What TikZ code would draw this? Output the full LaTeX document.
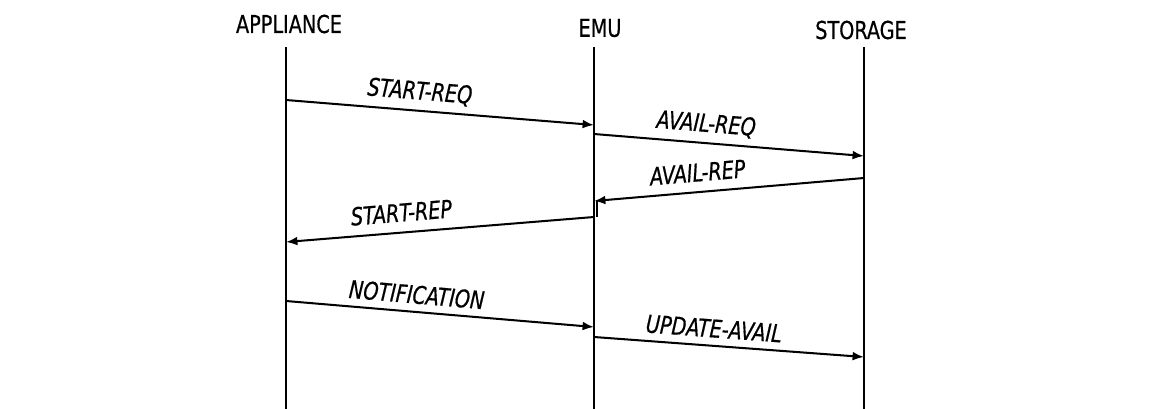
\documentclass[tikz,border=0pt]{standalone}
\usepackage{fontspec}
\setmainfont{DejaVuSansCondensed.ttf}[ItalicFont=DejaVuSansCondensed-Oblique.ttf, FakeStretch=0.87, FakeBold=0.6]
\usetikzlibrary{arrows.meta}

\begin{document}
\begin{tikzpicture}[x=0.02cm,y=-0.02cm,
  head/.style={font=\fontsize{14}{16}\selectfont, inner sep=0pt},
  life/.style={line width=1.2pt},
  msg/.style={line width=1.15pt, -{Latex[length=6.5pt,width=5pt]}},
  lbl/.style={font=\fontsize{14}{16}\selectfont\itshape, sloped, above=4pt, inner sep=0pt}]
\useasboundingbox (0,0) rectangle (1150,409);
\node[head] (appl) at (289,24) {APPLIANCE};
\node[head] (emu) at (600,28) {EMU};
\node[head] (stor) at (861,30) {STORAGE};
% lifelines
\coordinate (a0) at (286,47);
\coordinate (e0) at (594,47);
\coordinate (s0) at (864,47);
\draw[life] (a0) -- (a0 |- 0,409) coordinate (aN);
\draw[life] (e0) -- (e0 |- 0,409) coordinate (eN);
\draw[life] (s0) -- (s0 |- 0,409) coordinate (sN);
% message ends
\coordinate (a1) at (286,100); \coordinate (e1) at (594,125);
\coordinate (e2) at (594,134); \coordinate (s2) at (864,156);
\coordinate (s3) at (864,178); \coordinate (e3) at (594,201);
\coordinate (e4) at (594,217); \coordinate (a4) at (286,242);
\coordinate (a5) at (286,301); \coordinate (e5) at (594,327);
\coordinate (e6) at (594,337); \coordinate (s6) at (864,357);
\draw[msg] (a1) -- node[lbl,pos=.43] {START-REQ} (e1);
\draw[msg] (e2) -- node[lbl,pos=.41] {AVAIL-REQ} (s2);
\draw[msg] (s3) -- node[lbl,pos=.61,above=1.5pt] {AVAIL-REP} (e3);
\draw[msg] (e4) -- node[lbl,pos=.62,above=1.5pt] {START-REP} (a4);
\draw[msg] (a5) -- node[lbl,pos=.42] {NOTIFICATION} (e5);
\draw[msg] (e6) -- node[lbl,pos=.44] {UPDATE-AVAIL} (s6);
\draw[line width=1pt] ([xshift=1.5pt]e3) -- ([xshift=1.5pt]e4);
\end{tikzpicture}
\end{document}
